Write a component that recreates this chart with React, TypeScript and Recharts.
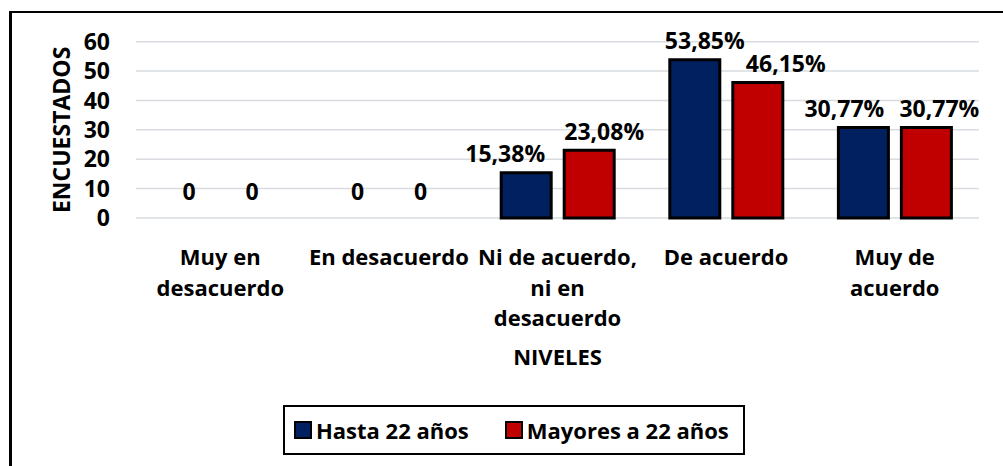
import React from "react";
import { BarChart, Bar, XAxis, YAxis, CartesianGrid, LabelList, Rectangle } from "recharts";

const categories = [
  "Muy en desacuerdo",
  "En desacuerdo",
  "Ni de acuerdo, ni en desacuerdo",
  "De acuerdo",
  "Muy de acuerdo",
];
const tickLabels = [
  ["Muy en", "desacuerdo"],
  ["En desacuerdo"],
  ["Ni de acuerdo,", "ni en", "desacuerdo"],
  ["De acuerdo"],
  ["Muy de", "acuerdo"],
];
const hasta22 = [0, 0, 15.38, 53.85, 30.77];
const mayores22 = [0, 0, 23.08, 46.15, 30.77];
const seriesNames = ["Hasta 22 años", "Mayores a 22 años"];
const yTicks = [0, 10, 20, 30, 40, 50, 60];

const COLORS = ["#002060", "#C00000"];
const FONT = "'Open Sans', sans-serif";
const FS = 22;
const NFS = 23;

const data = categories.map((c, i) => ({
  name: c,
  hasta: hasta22[i],
  mayores: mayores22[i],
}));

// label horizontal nudges (layout only)
const labelShift = [
  [0, 0, -21, 10, -19],
  [0, 0, 15, 28, 13],
];

const fmt = (v: number) => (v === 0 ? "0" : v.toFixed(2).replace(".", ",") + "%");

const makeLabel = (s: number) => (props: any) => {
  const { x, y, width, value, index } = props;
  if (Number(value) === 0) return null;
  const cx = Number(x) + Number(width) / 2 + labelShift[s][index];
  const by = Number(y) - 10.5;
  return (
    <text x={cx} y={by} textAnchor="middle" fill="#000" fontFamily={FONT} fontWeight={700} fontSize={NFS}>
      {fmt(Number(value))}
    </text>
  );
};

const makeShape = (s: number) => (props: any) => {
  const { x, y, width, height, value, payload } = props;
  const v = Array.isArray(value) ? value[1] - value[0] : Number(value ?? (s === 0 ? payload?.hasta : payload?.mayores));
  const h = Number(height) || 0;
  return (
    <g>
      {h > 0 ? <Rectangle {...props} /> : null}
      {v === 0 ? (
        <text x={Number(x) + Number(width) / 2} y={Number(y) + h - 18} textAnchor="middle" fill="#000" fontFamily={FONT} fontWeight={700} fontSize={NFS}>
          0
        </text>
      ) : null}
    </g>
  );
};

const XTick = (props: any) => {
  const { x, y, index } = props;
  const lines = tickLabels[index] || [];
  return (
    <text x={x} y={Number(y) + 47} textAnchor="middle" fill="#000" fontFamily={FONT} fontWeight={700} fontSize={FS}>
      {lines.map((l, i) => (
        <tspan key={i} x={x} dy={i === 0 ? 0 : 30.5}>
          {l}
        </tspan>
      ))}
    </text>
  );
};

export default function App() {
  return (
    <div style={{ position: "absolute", left: 0, top: 0, width: 1003, height: 466, background: "#fff", overflow: "hidden" }}>
      <div
        style={{
          position: "absolute",
          left: 8.5,
          top: 11,
          width: 1100,
          height: 600,
          borderLeft: "3px solid #000",
          borderTop: "2.5px solid #000",
          boxSizing: "border-box",
        }}
      />
      <div style={{ position: "absolute", left: 0, top: 0 }}>
        <BarChart width={1003} height={466} data={data} margin={{ top: 41.7, right: 24, left: 0, bottom: 188 }} barGap={13}>
          <CartesianGrid vertical={false} stroke="#D9DCE1" strokeWidth={1.5} />
          <XAxis
            dataKey="name"
            axisLine={false}
            tickLine={false}
            tickSize={0}
            tickMargin={0}
            height={60}
            interval={0}
            tick={<XTick />}
            label={{
              content: (p: any) => {
                const vb = p.viewBox || {};
                return (
                  <text x={vb.x + vb.width / 2} y={vb.y + 147} textAnchor="middle" fill="#000" fontFamily={FONT} fontWeight={700} fontSize={FS}>
                    NIVELES
                  </text>
                );
              },
            }}
          />
          <YAxis
            width={136}
            domain={[0, 60]}
            ticks={yTicks}
            interval={0}
            axisLine={false}
            tickLine={false}
            tickSize={0}
            tickMargin={26}
            tick={{ fill: "#000", fontFamily: FONT, fontWeight: 700, fontSize: NFS }}
            label={{
              content: (p: any) => {
                const vb = p.viewBox || {};
                const cy = vb.y + vb.height / 2;
                return (
                  <text x={70} y={cy} transform={`rotate(-90 70 ${cy})`} textAnchor="middle" fill="#000" fontFamily={FONT} fontWeight={700} fontSize={23}>
                    ENCUESTADOS
                  </text>
                );
              },
            }}
          />
          <Bar dataKey="hasta" name={seriesNames[0]} fill={COLORS[0]} stroke="#000" strokeWidth={3} barSize={50} shape={makeShape(0)} isAnimationActive={false}>
            <LabelList dataKey="hasta" content={makeLabel(0)} />
          </Bar>
          <Bar dataKey="mayores" name={seriesNames[1]} fill={COLORS[1]} stroke="#000" strokeWidth={3} barSize={50} shape={makeShape(1)} isAnimationActive={false}>
            <LabelList dataKey="mayores" content={makeLabel(1)} />
          </Bar>
        </BarChart>
      </div>
      <div
        style={{
          position: "absolute",
          left: 283,
          top: 405,
          width: 462,
          height: 50,
          border: "2.5px solid #000",
          boxSizing: "border-box",
          display: "flex",
          alignItems: "center",
          paddingLeft: 9,
          fontFamily: FONT,
          fontWeight: 700,
          fontSize: FS,
          color: "#000",
        }}
      >
        {seriesNames.map((n, i) => (
          <div key={n} style={{ display: "flex", alignItems: "center", marginRight: i === 0 ? 36 : 0 }}>
            <span
              style={{
                display: "inline-block",
                width: 18,
                height: 18,
                background: COLORS[i],
                border: "2.5px solid #000",
                boxSizing: "border-box",
                marginRight: 4,
              }}
            />
            <span style={{ lineHeight: 1 }}>{n}</span>
          </div>
        ))}
      </div>
    </div>
  );
}
